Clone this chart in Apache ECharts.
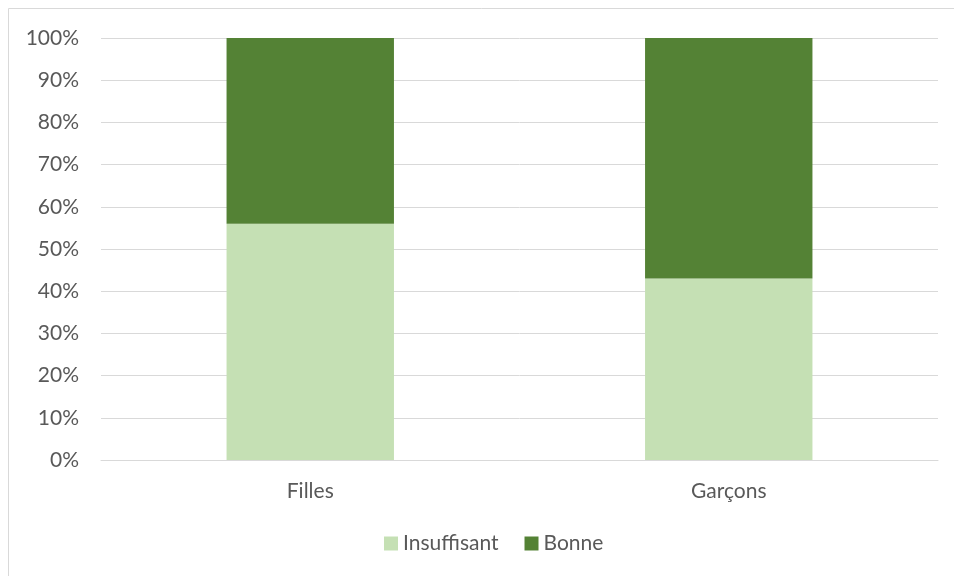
<!DOCTYPE html>
<html>
<head>
<meta charset="utf-8">
<script src="https://cdn.jsdelivr.net/npm/echarts@6/dist/echarts.min.js"></script>
<style>
  html, body { margin: 0; padding: 0; background: #fff; }
  #chart { width: 954px; height: 576px; }
</style>
</head>
<body>
<div id="chart"></div>
<script>
// chart data
const categories = ['Filles', 'Garçons']
const insuffisant = [56, 43]
const bonne = [44, 57]
const yTicks = [0, 10, 20, 30, 40, 50, 60, 70, 80, 90, 100]

const textColor = '#595959'
const fontFamily = 'Lato, "Open Sans", sans-serif'
const fontSize = 21

var myChart = echarts.init(document.getElementById('chart'))
var option = {
  animation: false,
  textStyle: { fontFamily: fontFamily },
  graphic: [
    {
      type: 'rect',
      shape: { x: 8.5, y: 8.5, width: 1000, height: 1000 },
      style: { fill: 'none', stroke: '#d9d9d9', lineWidth: 1 },
      silent: true
    }
  ],
  grid: { left: 101, right: 16, top: 38, bottom: 116 },
  legend: {
    bottom: 17,
    left: 379,
    itemWidth: 14,
    itemHeight: 14,
    itemGap: 26,
    icon: 'rect',
    textStyle: { color: textColor, fontSize: fontSize, fontFamily: fontFamily },
    data: ['Insuffisant', 'Bonne']
  },
  xAxis: {
    type: 'category',
    data: categories,
    axisTick: { show: false },
    axisLine: { lineStyle: { color: '#d9d9d9', width: 1 } },
    axisLabel: { color: textColor, fontSize: fontSize, margin: 21 }
  },
  yAxis: {
    type: 'value',
    min: yTicks[0],
    max: yTicks[yTicks.length - 1],
    interval: 10,
    axisLine: { show: false },
    axisTick: { show: false },
    splitLine: { lineStyle: { color: '#d9d9d9', width: 1 } },
    axisLabel: { color: textColor, fontSize: fontSize, margin: 22, formatter: '{value}%' }
  },
  series: [
    {
      name: 'Insuffisant',
      type: 'bar',
      stack: 'total',
      barWidth: '40%',
      itemStyle: { color: '#C5E0B4' },
      data: insuffisant
    },
    {
      name: 'Bonne',
      type: 'bar',
      stack: 'total',
      barWidth: '40%',
      itemStyle: { color: '#548235' },
      data: bonne
    }
  ]
}
option && myChart.setOption(option)
</script>
</body>
</html>
